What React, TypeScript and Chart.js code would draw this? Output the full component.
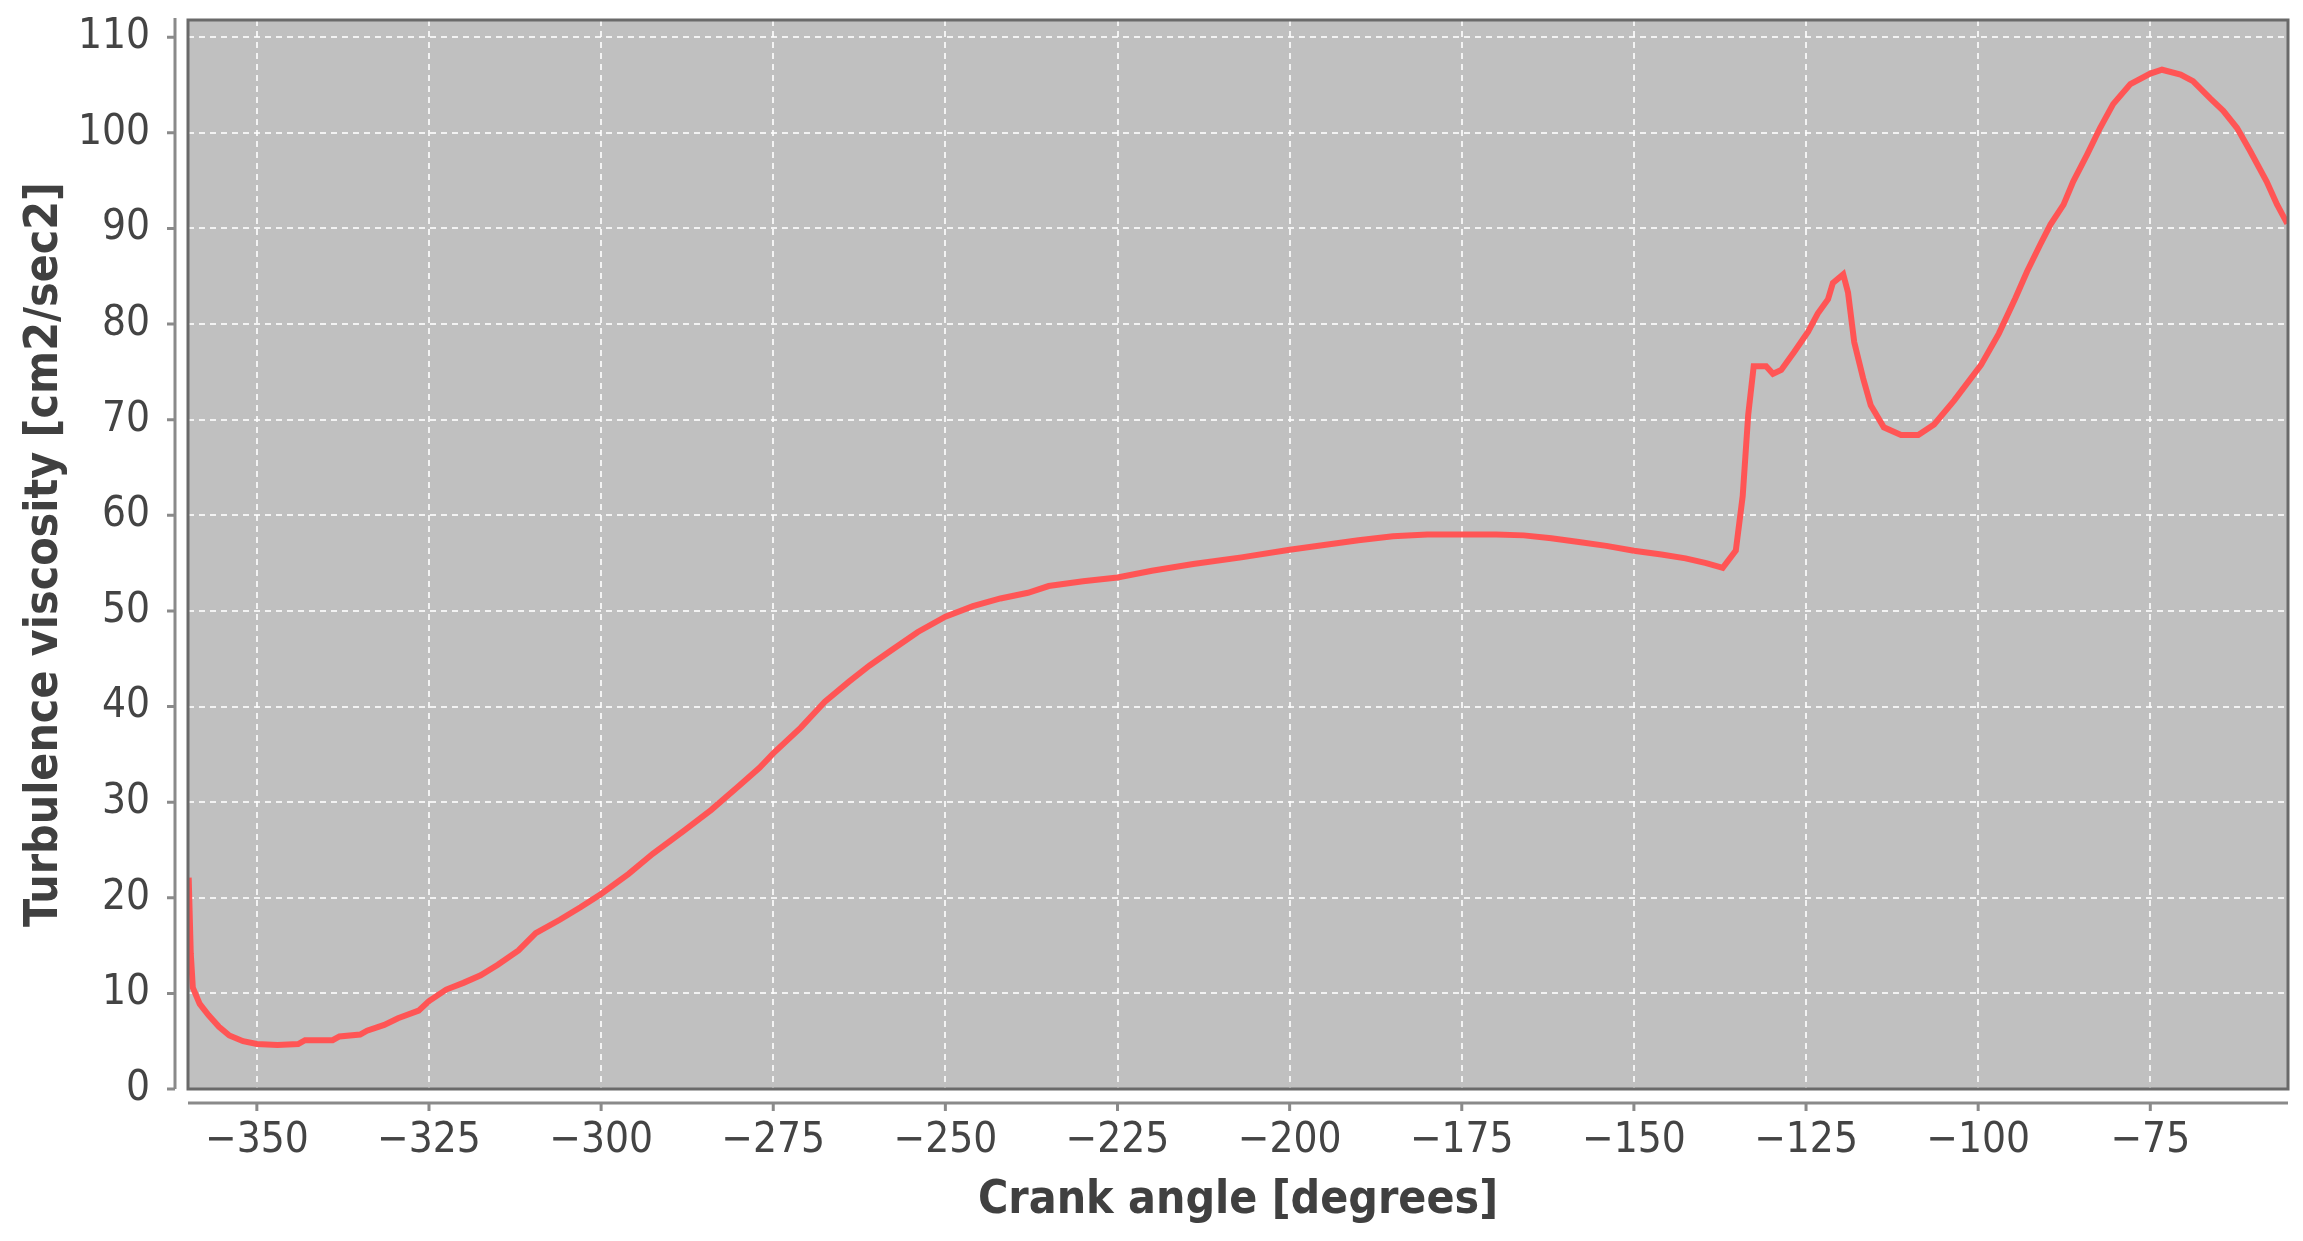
import { useEffect, useRef } from 'react';
import { Chart, registerables } from 'chart.js';

Chart.register(...registerables);

// crank angle [deg] and turbulence viscosity
const angles = [
  -359.9, -359.6, -359.3, -358.3, -357, -355.5, -354, -352, -350, -347, -344, -343,
  -339, -338, -335, -334, -331.5, -329.5, -326.5, -325, -322.5, -320, -317.5, -315,
  -312, -309.5, -306, -303, -300, -296, -292.5, -288, -284, -280, -277, -275, -271,
  -267.5, -264, -261, -258, -254, -250, -246, -242, -238, -235, -230, -225, -220,
  -214, -207, -200, -195, -190, -185, -180, -175, -170, -166, -162, -158, -154, -150,
  -146, -142.5, -139.5, -137.1, -135.2, -134.2, -133.4, -132.6, -130.8, -129.8,
  -128.6, -126.7, -124.7, -123.3, -121.8, -121.1, -119.6, -118.9, -118, -116.7,
  -115.6, -113.7, -111.2, -108.7, -106.4, -103.5, -99.6, -97, -94.6, -92.9, -91,
  -89.5, -87.6, -86.2, -84.2, -82.3, -80.4, -77.9, -75, -73.3, -70.6, -68.8, -66.3,
  -64.4, -62.4, -60.5, -58.1, -56.6, -55.1,
];
const viscosity = [
  22.1, 14.2, 10.6, 8.9, 7.7, 6.5, 5.6, 5.0, 4.7, 4.6, 4.7, 5.1,
  5.1, 5.5, 5.7, 6.1, 6.7, 7.4, 8.2, 9.2, 10.4, 11.1, 11.9, 13.0,
  14.5, 16.3, 17.7, 19.0, 20.4, 22.5, 24.6, 27.0, 29.2, 31.7, 33.6, 35.1, 37.8,
  40.5, 42.6, 44.3, 45.8, 47.8, 49.4, 50.5, 51.3, 51.9, 52.6, 53.1, 53.5, 54.2,
  54.9, 55.6, 56.4, 56.9, 57.4, 57.8, 58.0, 58.0, 58.0, 57.9, 57.6, 57.2, 56.8, 56.3,
  55.9, 55.5, 55.0, 54.5, 56.3, 62.0, 70.5, 75.6, 75.6, 74.8,
  75.2, 77.1, 79.2, 81.1, 82.6, 84.3, 85.2, 83.3, 78.1, 74.3,
  71.5, 69.2, 68.4, 68.4, 69.5, 72.0, 75.7, 79.0, 82.7, 85.5, 88.3,
  90.4, 92.5, 94.9, 97.7, 100.5, 103.0, 105.1, 106.2, 106.6, 106.1, 105.4, 103.6,
  102.3, 100.5, 98.1, 94.9, 92.5, 90.5,
];
const xTicks = [-350, -325, -300, -275, -250, -225, -200, -175, -150, -125, -100, -75];
const yTicks = [0, 10, 20, 30, 40, 50, 60, 70, 80, 90, 100, 110];

const FONT = '"DejaVu Sans Condensed", "DejaVu Sans", sans-serif';

const plotFrame = {
  id: 'plotFrame',
  beforeDraw(chart: Chart) {
    const { ctx, chartArea: a } = chart;
    ctx.save();
    ctx.fillStyle = '#ffffff';
    ctx.fillRect(0, 0, chart.width, chart.height);
    ctx.fillStyle = '#c0c0c0';
    ctx.fillRect(a.left, a.top, a.right - a.left, a.bottom - a.top);
    ctx.restore();
  },
  afterDraw(chart: Chart) {
    const { ctx, chartArea: a } = chart;
    const xs = chart.scales.x;
    const ys = chart.scales.y;
    ctx.save();
    // plot outline
    ctx.strokeStyle = '#6a6a6a';
    ctx.lineWidth = 3;
    ctx.strokeRect(a.left, a.top, a.right - a.left, a.bottom - a.top);
    // detached axis lines with outward ticks
    ctx.strokeStyle = '#8a8a8a';
    ctx.lineWidth = 3;
    const axX = a.left - 13;
    const axY = a.bottom + 14;
    ctx.beginPath();
    ctx.moveTo(axX, a.top - 2);
    ctx.lineTo(axX, a.bottom);
    yTicks.forEach((v) => {
      const p = ys.getPixelForValue(v);
      ctx.moveTo(axX, p);
      ctx.lineTo(axX - 8, p);
    });
    ctx.moveTo(a.left, axY);
    ctx.lineTo(a.right, axY);
    xTicks.forEach((v) => {
      const p = xs.getPixelForValue(v);
      ctx.moveTo(p, axY);
      ctx.lineTo(p, axY + 8);
    });
    ctx.stroke();
    ctx.restore();
  },
};

export default function App(): JSX.Element {
  const canvasRef = useRef<HTMLCanvasElement | null>(null);

  useEffect(() => {
    if (!canvasRef.current) return;
    const chart = new Chart(canvasRef.current, {
      type: 'line',
      data: {
        datasets: [
          {
            label: 'Turbulence viscosity',
            data: angles.map((a, i) => ({ x: a, y: viscosity[i] })),
            borderColor: '#ff5555',
            borderWidth: 6,
            pointRadius: 0,
            tension: 0,
            fill: false,
          },
        ],
      },
      options: {
        animation: false,
        responsive: true,
        maintainAspectRatio: false,
        layout: { padding: { top: 20, right: 15, left: 0, bottom: 0 } },
        plugins: { legend: { display: false }, tooltip: { enabled: false } },
        scales: {
          x: {
            type: 'linear',
            min: -360,
            max: -55,
            afterFit: (s) => {
              s.height = 152;
              s.paddingLeft = 0;
              s.paddingRight = 0;
            },
            afterBuildTicks: (s) => {
              s.ticks = xTicks.map((v) => ({ value: v }));
            },
            border: { display: false, dash: [6, 5] },
            grid: {
              color: 'rgba(255,255,255,0.8)',
              lineWidth: 2,
              drawTicks: false,
            },
            ticks: {
              padding: 27,
              color: '#444444',
              font: { family: FONT, size: 42 },
              maxRotation: 0,
              callback: (v) => (Number(v) < 0 ? '\u2212' + Math.abs(Number(v)) : String(v)),
            },
            title: {
              display: true,
              text: 'Crank angle [degrees]',
              color: '#404040',
              font: { family: FONT, size: 46, weight: 'bold' },
              padding: { top: 0, bottom: 12 },
            },
          },
          y: {
            min: 0,
            max: 111.8,
            afterFit: (s) => {
              s.width = 188;
              s.paddingTop = 0;
              s.paddingBottom = 0;
            },
            afterBuildTicks: (s) => {
              s.ticks = yTicks.map((v) => ({ value: v }));
            },
            border: { display: false, dash: [6, 5] },
            grid: {
              color: 'rgba(255,255,255,0.8)',
              lineWidth: 2,
              drawTicks: false,
            },
            ticks: {
              padding: 38,
              color: '#444444',
              font: { family: FONT, size: 42 },
            },
            title: {
              display: true,
              text: 'Turbulence viscosity [cm2/sec2]',
              color: '#404040',
              font: { family: FONT, size: 46, weight: 'bold' },
              padding: { top: 17, bottom: 0 },
            },
          },
        },
      },
      plugins: [plotFrame],
    });

    return () => {
      chart.destroy();
    };
  }, []);

  return (
    <div style={{ position: 'fixed', left: 0, top: 0, width: 2303, height: 1241, background: '#fff' }}>
      <canvas ref={canvasRef} />
    </div>
  );
}
